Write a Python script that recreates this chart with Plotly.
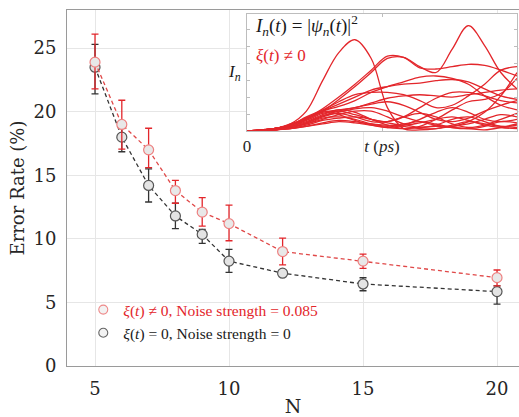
import plotly.graph_objects as go

# ---------------- main data ----------------
N = [5, 6, 7, 8, 9, 10, 12, 15, 20]
red_mean = [23.9, 19.0, 17.0, 13.8, 12.1, 11.2, 9.0, 8.25, 6.95]
red_hi = [26.1, 20.9, 18.7, 14.6, 13.25, 12.65, 10.05, 8.8, 7.55]
red_lo = [21.8, 17.05, 15.6, 12.8, 11.0, 9.85, 7.95, 7.68, 6.3]
blk_mean = [23.5, 18.0, 14.2, 11.8, 10.35, 8.25, 7.3, 6.45, 5.85]
blk_hi = [25.3, 19.2, 15.5, 12.8, 10.75, 9.17, 7.5, 6.94, 6.3]
blk_lo = [21.4, 16.85, 12.9, 10.8, 9.65, 7.37, 7.1, 5.92, 4.87]

x_ticks = [5, 10, 15, 20]
y_ticks = [0, 5, 10, 15, 20, 25]

red_label = "<span style='color:#e3262b'><i>ξ</i>(<i>t</i>) ≠ 0, Noise strength = 0.085</span>"
blk_label = "<i>ξ</i>(<i>t</i>) = 0, Noise strength = 0"

# ---------------- inset data ----------------
T = [0, 5, 8, 11, 14, 17, 20, 23, 26, 29, 32, 35, 38, 41, 44, 47, 50]
c01 = [0, .02, .06, .17, .43, .67, .78, .62, .20, .02, .01, .02, .05, .08, .06, .04, .03]
c02 = [0, .02, .05, .10, .17, .27, .38, .50, .62, .63, .55, .50, .70, .90, .73, .50, .36]
c03 = [0, .02, .06, .11, .19, .29, .40, .52, .64, .63, .54, .53, .55, .57, .56, .52, .47]
c04 = [0, .02, .05, .10, .17, .23, .29, .35, .38, .40, .41, .43, .44, .42, .36, .30, .27]
c05 = [0, .02, .05, .11, .17, .21, .26, .33, .38, .42, .46, .47, .45, .40, .30, .22, .18]
c06 = [0, .02, .05, .12, .18, .25, .31, .33, .33, .31, .26, .20, .22, .30, .40, .52, .55]
c07 = [0, .02, .05, .11, .16, .18, .20, .24, .28, .30, .31, .30, .29, .31, .33, .35, .36]
c08 = [0, .02, .04, .09, .15, .17, .14, .10, .08, .12, .20, .28, .33, .33, .30, .26, .24]
c09 = [0, .02, .05, .10, .17, .14, .09, .05, .03, .05, .10, .16, .20, .16, .10, .08, .10]
c10 = [0, .02, .04, .08, .14, .18, .16, .10, .05, .02, .04, .10, .18, .25, .27, .32, .45]
c11 = [0, .01, .03, .07, .12, .16, .19, .20, .17, .12, .08, .05, .04, .08, .16, .30, .50]
c12 = [0, .01, .03, .07, .13, .15, .12, .08, .08, .12, .15, .12, .06, .03, .05, .10, .15]
c13 = [0, .01, .03, .06, .10, .14, .17, .17, .12, .06, .03, .05, .10, .12, .08, .04, .05]
c14 = [0, .01, .03, .06, .11, .12, .10, .06, .04, .06, .08, .06, .03, .02, .04, .08, .07]
c15 = [0, .01, .02, .05, .09, .11, .12, .10, .07, .05, .07, .10, .12, .09, .05, .03, .02]
c16 = [0, .01, .02, .04, .07, .09, .08, .06, .05, .04, .02, .02, .04, .06, .10, .14, .12]
c17 = [0, .01, .02, .04, .06, .08, .07, .05, .03, .02, .03, .04, .03, .02, .01, .03, .06]
c18 = [0, .01, .03, .07, .13, .17, .20, .23, .25, .22, .16, .10, .08, .11, .17, .22, .26]
inset_curves = [c01, c02, c03, c04, c05, c06, c07, c08, c09, c10,
                c11, c12, c13, c14, c15, c16, c17, c18]

SERIF = "DejaVu Serif"
MATH = "Liberation Serif"
RED = "#e3262b"
GRID = "#e6e6e6"

fig = go.Figure()

# black series
fig.add_trace(go.Scatter(
    x=N, y=blk_mean, mode="lines+markers",
    line=dict(color="#333333", width=1.3, dash="4px,3px"),
    marker=dict(symbol="circle", size=10, color="#e4e4e4",
                line=dict(color="#555555", width=1.2)),
    error_y=dict(type="data", symmetric=False,
                 array=[h - m for h, m in zip(blk_hi, blk_mean)],
                 arrayminus=[m - l for m, l in zip(blk_mean, blk_lo)],
                 color="#333333", thickness=1.3, width=3.5),
    showlegend=False,
))
# red series
fig.add_trace(go.Scatter(
    x=N, y=red_mean, mode="lines+markers",
    line=dict(color="#e04848", width=1.3, dash="4px,3px"),
    marker=dict(symbol="circle", size=10, color="#e8e8e8",
                line=dict(color="#ee8080", width=1.2)),
    error_y=dict(type="data", symmetric=False,
                 array=[h - m for h, m in zip(red_hi, red_mean)],
                 arrayminus=[m - l for m, l in zip(red_mean, red_lo)],
                 color=RED, thickness=1.3, width=3.5),
    showlegend=False,
))

# legend entries (markers only, as in the reference)
fig.add_trace(go.Scatter(
    x=[None], y=[None], mode="markers", name=red_label,
    marker=dict(symbol="circle", size=9, color="#f2f2f2",
                line=dict(color="#ee8a8a", width=1.1)),
    legendrank=1,
))
fig.add_trace(go.Scatter(
    x=[None], y=[None], mode="markers", name=blk_label,
    marker=dict(symbol="circle", size=9, color="#f2f2f2",
                line=dict(color="#666666", width=1.1)),
    legendrank=2,
))

# inset curves
for c in inset_curves:
    fig.add_trace(go.Scatter(
        x=T, y=c, mode="lines", xaxis="x2", yaxis="y2",
        line=dict(color=RED, width=1.3, shape="spline", smoothing=1.0),
        showlegend=False, hoverinfo="skip",
    ))

# geometry (pixels) -> paper domains
L, R, TOP, B = 67, 0, 10, 51
W, H = 519, 417
pw, ph = W - L - R, H - TOP - B
ix0, ix1 = 247, 517
iy_top, iy_bot = 14, 131
dom_x2 = [(ix0 - L) / pw, min(1.0, (ix1 - L) / pw)]
dom_y2 = [(H - B - iy_bot) / ph, (H - B - iy_top) / ph]

fig.update_layout(
    width=W, height=H,
    margin=dict(l=L, r=R, t=TOP, b=B, pad=0),
    paper_bgcolor="white", plot_bgcolor="white",
    font=dict(family=SERIF, size=18, color="#262626"),
    showlegend=True,
    legend=dict(
        x=0.036, y=0.205, xanchor="left", yanchor="top",
        bgcolor="rgba(0,0,0,0)", borderwidth=0,
        font=dict(family=MATH, size=15.5, color="#1a1a1a"),
        itemwidth=30, tracegroupgap=0,
    ),
    xaxis=dict(
        range=[3.955, 20.82], tickvals=x_ticks,
        showgrid=True, gridcolor=GRID, gridwidth=1,
        zeroline=False, showline=True, linecolor="#9a9a9a", linewidth=1,
        mirror=True, ticks="", ticklabelstandoff=6,
        title=dict(text="N", font=dict(family=SERIF, size=19), standoff=6),
    ),
    yaxis=dict(
        range=[0, 28], tickvals=y_ticks,
        showgrid=True, gridcolor=GRID, gridwidth=1,
        zeroline=False, showline=True, linecolor="#9a9a9a", linewidth=1,
        ticks="", ticklabelstandoff=6,
        title=dict(text="Error Rate (%)", font=dict(family=SERIF, size=18), standoff=4),
    ),
    xaxis2=dict(
        domain=dom_x2, anchor="y2", range=[0, 50],
        tickvals=[0, 25, 50], ticktext=["0", "<i>t</i> (<i>ps</i>)", "50"],
        tickfont=dict(family=MATH, size=17, color="#262626"),
        showgrid=False, zeroline=False, showline=True, linecolor="#bdbdbd",
        mirror="ticks", ticks="inside", ticklen=3, tickcolor="#bdbdbd",
    ),
    yaxis2=dict(
        domain=dom_y2, anchor="x2", range=[0, 1],
        tick0=0, dtick=0.145, showticklabels=False,
        showgrid=False, zeroline=False, showline=True, linecolor="#bdbdbd",
        mirror="ticks", ticks="inside", ticklen=3, tickcolor="#bdbdbd",
    ),
)

# inset text
fig.add_annotation(
    xref="paper", yref="paper",
    x=(253 - L) / pw, y=(H - B - 25) / ph, xanchor="left", yanchor="middle",
    text="<i>I</i><sub><i>n</i></sub>(<i>t</i>) = |<i>ψ</i><sub><i>n</i></sub>(<i>t</i>)|<sup>2</sup>",
    showarrow=False, font=dict(family=MATH, size=19, color="#1a1a1a"),
)
fig.add_annotation(
    xref="paper", yref="paper",
    x=(254 - L) / pw, y=(H - B - 55) / ph, xanchor="left", yanchor="middle",
    text="<i>ξ</i>(<i>t</i>) ≠ 0",
    showarrow=False, font=dict(family=MATH, size=17, color=RED),
)
fig.add_annotation(
    xref="paper", yref="paper",
    x=(234 - L) / pw, y=(H - B - 73) / ph, xanchor="center", yanchor="middle",
    text="<i>I</i><sub><i>n</i></sub>",
    showarrow=False, font=dict(family=MATH, size=17, color="#1a1a1a"),
)

fig.write_html("out.html")
